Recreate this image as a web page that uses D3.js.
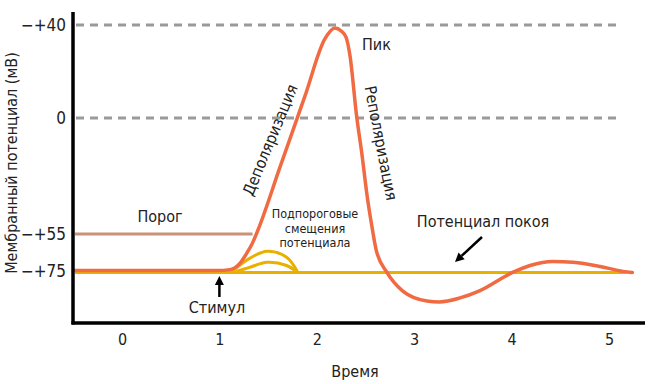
<!DOCTYPE html>
<html><head><meta charset="utf-8">
<script src="https://cdn.jsdelivr.net/npm/d3@7"></script>
<style>
html,body{margin:0;padding:0;background:#fff;}
svg{display:block;}
text{font-family:"Liberation Sans Narrow","DejaVu Sans Condensed",sans-serif;fill:#222;}
</style></head>
<body>
<svg id="chart" width="654" height="384"></svg>
<script>
// ---- data ----
const xTicks = [0, 1, 2, 3, 4, 5];
const yTicks = [40, 0, -55, -75];
const yTickLabels = ["−+40", "0", "−+55", "−+75"];
const gridValues = [40, 0];
const threshold = -55;
const resting = -75;
const thresholdEnd = 1.34;
const restingEnd = 5.18;
const stimulusTime = 1;

// action potential (time, mV)
const apTime  = [-0.5, 0.97, 1.11, 1.21, 1.28, 1.335, 1.396, 1.622, 1.879, 2.084, 2.187, 2.25, 2.30, 2.34, 2.41, 2.46, 2.52, 2.56, 2.61, 2.72, 2.88, 3.13, 3.26, 3.47, 3.67, 4.01, 4.19, 4.42, 4.63, 4.91, 5.19, 5.24];
const apValue = [-74.5, -74.5, -74.0, -70.7, -65.3, -60.3, -53.1, -23.3, 9.5, 34.1, 38.7, 37.4, 34.8, 27.0, 0.4, -16.0, -38.0, -49.8, -63.6, -75.5, -85.3, -90.7, -91.2, -89.1, -85.3, -75.5, -71.8, -69.6, -70.1, -72.3, -75.3, -75.5];

// subthreshold potential shifts
const sub1Time  = [1.13, 1.31, 1.49, 1.69, 1.80];
const sub1Value = [-75, -68.0, -64.2, -67.4, -75];
const sub2Time  = [1.17, 1.31, 1.49, 1.69, 1.79];
const sub2Value = [-75, -72.8, -70.1, -71.8, -75];

// ---- layout ----
const svg = d3.select("#chart");
const x = d3.scaleLinear().domain([0, 5]).range([122, 609]);
const y = d3.scaleLinear().domain([-75, -55, 0, 40]).range([271.5, 234, 118, 25]);

const axisLeftX = 73, axisTopY = 12, axisBottomY = 323, axisRightX = 645;

// dashed grid
svg.selectAll(".grid").data(gridValues).enter().append("line")
  .attr("x1", 76).attr("x2", 618)
  .attr("y1", d => y(d)).attr("y2", d => y(d))
  .attr("stroke", "#9a9a9a").attr("stroke-width", 3)
  .attr("stroke-dasharray", "8,6");

// threshold
svg.append("line")
  .attr("x1", axisLeftX + 2).attr("x2", x(thresholdEnd))
  .attr("y1", y(threshold)).attr("y2", y(threshold))
  .attr("stroke", "#c8917a").attr("stroke-width", 3);

// resting potential
svg.append("line")
  .attr("x1", axisLeftX + 2).attr("x2", x(restingEnd))
  .attr("y1", y(resting) + 1).attr("y2", y(resting) + 1)
  .attr("stroke", "#e8b100").attr("stroke-width", 3);

// subthreshold arcs
const subLine = d3.line().x(d => x(d[0])).y(d => y(d[1])).curve(d3.curveCatmullRom.alpha(0.5));
[[sub1Time, sub1Value], [sub2Time, sub2Value]].forEach(([t, v]) => {
  svg.append("path")
    .attr("d", subLine(t.map((tt, i) => [tt, v[i]])))
    .attr("fill", "none").attr("stroke", "#e8b100").attr("stroke-width", 3);
});

// action potential
const apLine = d3.line().x(d => x(d[0])).y(d => y(d[1])).curve(d3.curveMonotoneX);
svg.append("path")
  .attr("d", apLine(apTime.map((t, i) => [t, apValue[i]])))
  .attr("fill", "none").attr("stroke", "#f06a42").attr("stroke-width", 3.5)
  .attr("stroke-linejoin", "round").attr("stroke-linecap", "round");

// axes lines
svg.append("line").attr("x1", axisLeftX).attr("x2", axisLeftX)
  .attr("y1", axisTopY).attr("y2", axisBottomY + 1.5)
  .attr("stroke", "#000").attr("stroke-width", 3.5);
svg.append("line").attr("x1", axisLeftX - 1.5).attr("x2", axisRightX)
  .attr("y1", axisBottomY).attr("y2", axisBottomY)
  .attr("stroke", "#000").attr("stroke-width", 3.5);

// ticks via d3 axes
const xAxis = d3.axisBottom(x).tickValues(xTicks).tickSize(0).tickPadding(0).tickFormat(d3.format("d"));
const gx = svg.append("g").attr("transform", `translate(0,${axisBottomY + 11})`).call(xAxis);
gx.select(".domain").remove();
gx.selectAll("text").attr("font-size", 16).attr("fill", "#222")
  .attr("font-family", "'Liberation Sans Narrow','DejaVu Sans Condensed',sans-serif");

const yAxis = d3.axisLeft(y).tickValues(yTicks).tickSize(0).tickPadding(0)
  .tickFormat((d, i) => yTickLabels[i]);
const gy = svg.append("g").attr("transform", `translate(${axisLeftX - 7},0)`).call(yAxis);
gy.select(".domain").remove();
gy.selectAll("text").attr("font-size", 17).attr("fill", "#222")
  .attr("font-family", "'Liberation Sans Narrow','DejaVu Sans Condensed',sans-serif");

// axis titles
svg.append("text").attr("x", 355).attr("y", 377).attr("text-anchor", "middle")
  .attr("font-size", 16).text("Время");
svg.append("text").attr("transform", "translate(17,163) rotate(-90)")
  .attr("text-anchor", "middle").attr("font-size", 16).text("Мембранный потенциал (мВ)");

// annotations
svg.append("text").attr("x", 160).attr("y", 222).attr("text-anchor", "middle")
  .attr("font-size", 16).text("Порог");
svg.append("text").attr("x", 362).attr("y", 50).attr("font-size", 16).text("Пик");
svg.append("text").attr("x", 483).attr("y", 227).attr("text-anchor", "middle")
  .attr("font-size", 16).text("Потенциал покоя");
svg.append("text").attr("x", 217).attr("y", 313).attr("text-anchor", "middle")
  .attr("font-size", 16).text("Стимул");
const subLabel = svg.append("text").attr("text-anchor", "middle").attr("font-size", 12.5);
["Подпороговые", "смещения", "потенциала"].forEach((s, i) => {
  subLabel.append("tspan").attr("x", 315).attr("y", 218 + i * 14.5).text(s);
});
svg.append("text").attr("transform", "translate(270,140) rotate(-67.5)")
  .attr("text-anchor", "middle").attr("dy", "0.35em").attr("font-size", 16).text("Деполяризация");
svg.append("text").attr("transform", "translate(381,143) rotate(79)")
  .attr("text-anchor", "middle").attr("dy", "0.35em").attr("font-size", 16).text("Реполяризация");

// arrows
function arrow(x1, y1, x2, y2) {
  const ang = Math.atan2(y2 - y1, x2 - x1);
  const hl = 9, hw = 4.5;
  const bx = x2 - hl * Math.cos(ang), by = y2 - hl * Math.sin(ang);
  svg.append("line").attr("x1", x1).attr("y1", y1).attr("x2", bx).attr("y2", by)
    .attr("stroke", "#000").attr("stroke-width", 2.5);
  const px = -Math.sin(ang) * hw, py = Math.cos(ang) * hw;
  svg.append("path")
    .attr("d", `M${x2},${y2}L${bx + px},${by + py}L${bx - px},${by - py}Z`)
    .attr("fill", "#000");
}
arrow(x(stimulusTime), 297, x(stimulusTime), 276);
arrow(482, 237, 455, 262);
</script>
</body></html>
